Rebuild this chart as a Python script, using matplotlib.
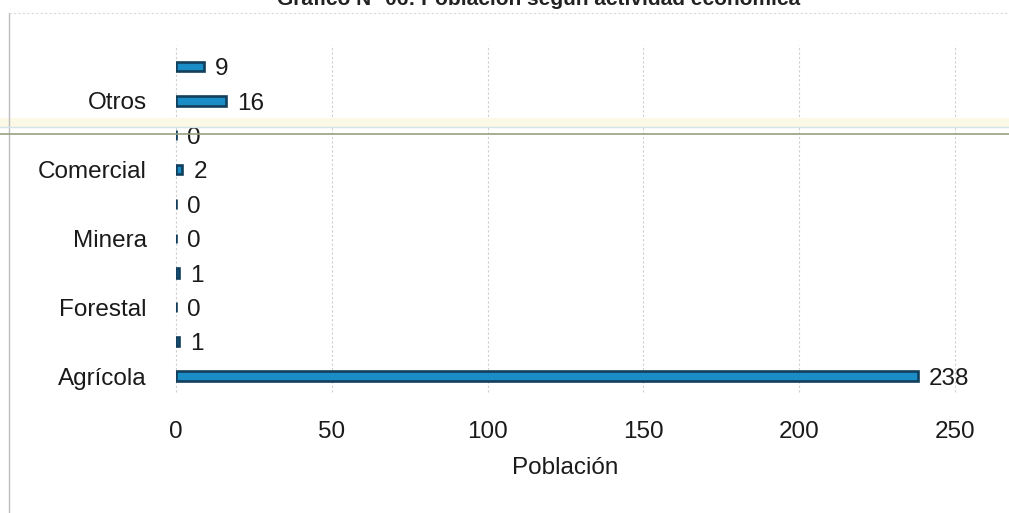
import matplotlib
matplotlib.use("Agg")
import matplotlib.pyplot as plt
from matplotlib.lines import Line2D
from matplotlib.patches import Rectangle
from matplotlib import font_manager

# Data: population by economic activity (bottom to top)
categories = ["Agrícola", "", "Forestal", "", "Minera", "", "Comercial", "", "Otros", ""]
values = [238, 1, 0, 1, 0, 0, 2, 0, 16, 9]
x_ticks = [0, 50, 100, 150, 200, 250]

names = {f.name for f in font_manager.fontManager.ttflist}
family = "Liberation Sans Narrow" if "Liberation Sans Narrow" in names else "Liberation Sans"
plt.rcParams["font.family"] = [family, "DejaVu Sans"]
FS = 17.5

W, H = 1009, 513
fig = plt.figure(figsize=(W / 100, H / 100), dpi=100)
fig.patch.set_facecolor("white")

def fx(px):
    return px / W

def fy(py):
    return 1 - py / H

ax = fig.add_axes([fx(176), fy(392), fx(955) - fx(176), fy(45) - fy(392)])
ypos = list(range(len(values)))
ax.barh(ypos, values, height=0.28, color="#1a8cc6", edgecolor="#123f5c", linewidth=1.9, zorder=3)

for y, v in zip(ypos, values):
    ax.annotate(str(v), xy=(v, y), xytext=(8, -2), textcoords="offset points",
                ha="left", va="center", fontsize=FS, color="#1a1a1a")

ax.set_xlim(0, 250)
ax.set_ylim(-0.465, 9.62)
ax.set_xticks(x_ticks)
ax.set_xticklabels([str(t) for t in x_ticks], fontsize=FS, color="#1a1a1a")
ax.set_yticks(ypos)
ax.set_yticklabels(categories, fontsize=FS, color="#1a1a1a")
ax.tick_params(axis="x", length=0, pad=21)
ax.tick_params(axis="y", length=0, pad=21)
ax.grid(axis="x", color="#cfcfcf", linestyle=(0, (2, 2)), linewidth=0.8, zorder=0)
for gl in ax.get_xgridlines():
    gl.set_clip_on(False)
for s in ax.spines.values():
    s.set_visible(False)
ax.set_xlabel("Población", fontsize=FS, color="#1a1a1a", labelpad=10)

# Chart frame edges
fig.add_artist(Line2D([fx(9), fx(9)], [fy(13), 0], color="#bdbdbd", linewidth=1.0))
fig.add_artist(Line2D([fx(9), 1], [fy(13), fy(13)], color="#dadada", linewidth=0.8, linestyle=(0, (2, 2))))

# Title (top edge of the sheet)
fig.text(fx(539), fy(5), "Gráfico N° 06: Población según actividad económica",
         ha="center", va="baseline", fontsize=15, fontweight="bold", color="#222222")

# Horizontal streak across the sheet
fig.add_artist(Rectangle((0, fy(128)), 1, fy(118) - fy(128), transform=fig.transFigure,
                         facecolor="#fbf8e6", edgecolor="none", zorder=0.5))
fig.add_artist(Line2D([0, 1], [fy(127), fy(127)], color="#d3e3ea", linewidth=1.0))
fig.add_artist(Line2D([0, 1], [fy(134), fy(134)], color="#97a082", linewidth=1.2))

fig.savefig("out.png", dpi=100)
